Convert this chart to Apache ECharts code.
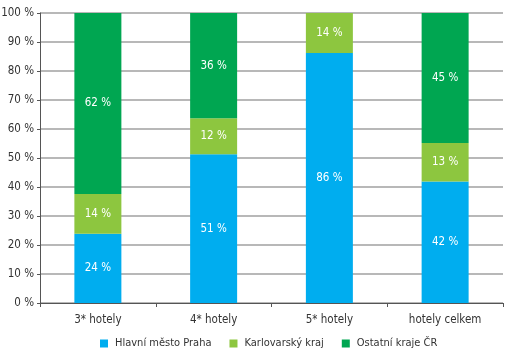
<!DOCTYPE html>
<html>
<head>
<meta charset="utf-8">
<script src="https://cdn.jsdelivr.net/npm/echarts@6/dist/echarts.min.js"></script>
<style>
  html, body { margin: 0; padding: 0; background: #fff; }
  #chart { width: 510px; height: 359px; }
</style>
</head>
<body>
<div id="chart"></div>
<script>
var categories = ['3* hotely', '4* hotely', '5* hotely', 'hotely celkem'];
var seriesNames = ['Hlavní město Praha', 'Karlovarský kraj', 'Ostatní kraje ČR'];
// podíly v %
var praha = [23.9, 51.3, 86.2, 41.9];
var karlovarsky = [13.7, 12.4, 13.8, 13.3];
var ostatni = [62.4, 36.3, 0, 44.8];
var colors = ['#00adef', '#8dc63f', '#00a651'];

var font = '"DejaVu Sans Condensed", "Liberation Sans", sans-serif';

function makeSeries(name, data, color) {
  return {
    name: name,
    type: 'bar',
    stack: 'total',
    data: data,
    barWidth: 47,
    itemStyle: { color: color },
    label: {
      show: true,
      position: 'inside',
      color: '#fff',
      fontFamily: font,
      fontSize: 11.5,
      formatter: function (p) {
        return p.value > 0 ? Math.round(p.value) + ' %' : '';
      }
    }
  };
}

var myChart = echarts.init(document.getElementById('chart'));
var option = {
  animation: false,
  grid: { left: 40, right: 7, top: 13, bottom: 56, outerBoundsMode: 'none' },
  legend: {
    bottom: 5,
    left: 95,
    itemWidth: 8,
    itemHeight: 8,
    itemGap: 18,
    icon: 'rect',
    textStyle: { color: '#333', fontFamily: font, fontSize: 11, padding: [0, 0, 0, 2] },
    data: seriesNames
  },
  xAxis: {
    type: 'category',
    data: categories,
    axisLine: { lineStyle: { color: '#555', width: 1 } },
    axisTick: { show: true, length: 4, lineStyle: { color: '#555' } },
    axisLabel: { color: '#333', fontFamily: font, fontSize: 11.5, margin: 11 }
  },
  yAxis: {
    type: 'value',
    min: 0,
    max: 100,
    interval: 10,
    axisLine: { show: true, lineStyle: { color: '#555', width: 1 } },
    axisTick: { show: true, length: 3, lineStyle: { color: '#555' } },
    axisLabel: { color: '#333', fontFamily: font, fontSize: 11.5, margin: 6, formatter: '{value} %' },
    splitLine: { lineStyle: { color: '#a0a0a0', width: 1.5 } }
  },
  series: [
    makeSeries(seriesNames[0], praha, colors[0]),
    makeSeries(seriesNames[1], karlovarsky, colors[1]),
    makeSeries(seriesNames[2], ostatni, colors[2])
  ]
};
myChart.setOption(option);
</script>
</body>
</html>
